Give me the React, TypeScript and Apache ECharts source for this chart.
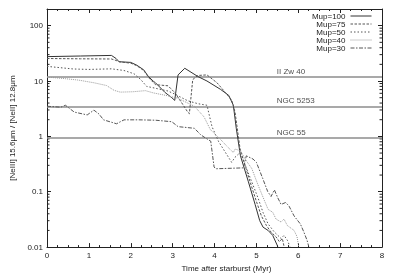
import React, { useEffect, useRef } from "react";
import * as echarts from "echarts";

const seriesNames = ["Mup=100", "Mup=75", "Mup=50", "Mup=40", "Mup=30"];

const mup100: number[][] = [
  [0, 27.6], [0.8, 28.3], [1.54, 29], [1.65, 25.5], [1.72, 22.3], [2.0, 21.7], [2.14, 19.4],
  [2.31, 15.9], [2.42, 12.1], [2.54, 9.9], [2.59, 9.3], [2.82, 6.2], [2.98, 5.0], [3.05, 4.47],
  [3.13, 12.9], [3.29, 17.0], [3.6, 12.1], [3.82, 10.0], [4.14, 7.1], [4.34, 5.5], [4.45, 3.65],
  [4.52, 1.4], [4.62, 0.445], [4.81, 0.151], [4.97, 0.059], [5.08, 0.03], [5.16, 0.0229],
  [5.28, 0.02], [5.39, 0.0163], [5.51, 0.0103],
];
const mup75: number[][] = [
  [0, 25.5], [0.8, 25.2], [1.54, 25], [1.65, 23.5], [1.72, 22.3], [2.0, 21], [2.14, 19],
  [2.31, 15.5], [2.45, 11], [2.59, 8.6], [2.89, 8.2], [3.05, 6.2], [3.21, 4.12], [3.36, 2.75],
  [3.4, 2.57], [3.48, 10.6], [3.6, 12.6], [3.82, 12.9], [4.06, 9.3], [4.26, 6.2], [4.41, 4.5],
  [4.49, 2.75], [4.61, 0.6], [4.66, 0.445], [4.85, 0.151], [5.0, 0.067], [5.12, 0.0366],
  [5.24, 0.0245], [5.35, 0.0187], [5.47, 0.0153], [5.55, 0.0125], [5.62, 0.0143], [5.66, 0.0103],
];
const mup50: number[][] = [
  [0, 18.4], [0.63, 16.5], [1.0, 16.2], [1.54, 16.6], [1.84, 15.5], [2.08, 13.5], [2.24, 10.6],
  [2.38, 8.0], [2.59, 7.4], [2.89, 6.6], [3.05, 5.8], [3.36, 4.4], [3.6, 3.9], [3.82, 3.65],
  [3.94, 1.5], [4.1, 0.8], [4.41, 0.34], [4.49, 0.42], [4.6, 0.5], [4.66, 0.42], [4.89, 0.151],
  [5.04, 0.077], [5.16, 0.042], [5.28, 0.0262], [5.43, 0.0187], [5.59, 0.0143], [5.66, 0.0163],
  [5.74, 0.0133], [5.8, 0.0103],
];
const mup40: number[][] = [
  [0, 11.8], [0.45, 11], [0.75, 10.4], [1.12, 9.3], [1.42, 8.3], [1.6, 6.8], [1.75, 6.3],
  [2.05, 6.4], [2.35, 6.7], [2.54, 6.1], [2.89, 5.4], [3.12, 4.9], [3.36, 4.0], [3.52, 3.5],
  [3.75, 2.25], [3.9, 1.33], [4.02, 1.08], [4.14, 0.89], [4.29, 0.67], [4.45, 0.51], [4.49, 0.59],
  [4.62, 0.55], [4.73, 0.39], [4.89, 0.263], [5.04, 0.132], [5.2, 0.067], [5.28, 0.048],
  [5.39, 0.0426], [5.47, 0.032], [5.59, 0.0284], [5.66, 0.032], [5.74, 0.0245], [5.9, 0.02],
  [5.97, 0.0155], [6.01, 0.0103],
];
const mup30: number[][] = [
  [0, 3.5], [0.33, 3.37], [0.44, 3.65], [0.65, 2.75], [0.96, 2.44], [1.12, 2.98], [1.24, 2.54],
  [1.35, 1.99], [1.66, 1.69], [1.84, 1.99], [2.19, 1.99], [2.59, 1.96], [2.98, 1.84], [3.13, 1.5],
  [3.52, 1.4], [3.67, 1.07], [3.79, 0.93], [3.91, 0.82], [3.99, 0.28], [4.03, 0.26], [4.69, 0.27],
  [4.76, 0.445], [4.92, 0.39], [5.0, 0.34], [5.15, 0.175], [5.27, 0.101], [5.35, 0.082],
  [5.43, 0.108], [5.51, 0.078], [5.59, 0.059], [5.7, 0.064], [5.78, 0.055], [5.9, 0.0366],
  [6.05, 0.0262], [6.13, 0.019], [6.21, 0.0133], [6.25, 0.0103],
];

const refNames = ["II Zw 40", "NGC 5253", "NGC 55"];
const refValues = [11.9, 3.5, 0.94];
const refLabelTime = 5.5;

const yMinorTicks = [
  0.02, 0.03, 0.04, 0.05, 0.06, 0.07, 0.08, 0.09,
  0.2, 0.3, 0.4, 0.5, 0.6, 0.7, 0.8, 0.9,
  2, 3, 4, 5, 6, 7, 8, 9,
  20, 30, 40, 50, 60, 70, 80, 90,
];

const FONT = "Liberation Sans";
const FRAME = "#222";

const lineStyles = [
  { color: "#333", type: "solid" as any },
  { color: "#555", type: [2.5, 1.5] },
  { color: "#555", type: [1.5, 2] },
  { color: "#999", type: [1, 1] },
  { color: "#555", type: [4, 1.5, 1.5, 1.5] },
];
const seriesData = [mup100, mup75, mup50, mup40, mup30];

export default function App() {
  const ref = useRef<HTMLDivElement>(null);
  useEffect(() => {
    const chart = echarts.init(ref.current!, null, { renderer: "svg" });
    const xBase = {
      type: "value",
      min: 0,
      max: 8,
      interval: 1,
      axisLine: { show: true, onZero: false, lineStyle: { color: FRAME, width: 1 } },
      axisTick: { show: true, inside: true, length: 4, lineStyle: { color: FRAME } },
      minorTick: { show: true, splitNumber: 4, length: 2, lineStyle: { color: FRAME } },
      splitLine: { show: false },
    };
    const yBase = {
      type: "log",
      logBase: 10,
      min: 0.01,
      max: 200,
      axisLine: { show: true, onZero: false, lineStyle: { color: FRAME, width: 1 } },
      axisTick: { show: true, inside: true, length: 4, lineStyle: { color: FRAME } },
      splitLine: { show: false },
    };
    const option: any = {
      animation: false,
      textStyle: { fontFamily: FONT },
      grid: { left: 39, right: 14, top: 9, bottom: 23, containLabel: false },
      legend: {
        data: seriesNames,
        orient: "vertical",
        right: 24,
        top: 12,
        align: "right",
        itemWidth: 21,
        itemHeight: 7,
        itemGap: 0,
        padding: 0,
        itemStyle: { opacity: 0, borderWidth: 0 },
        lineStyle: { width: 1 },
        textStyle: { fontSize: 8, color: "#222", fontFamily: FONT, lineHeight: 7 },
      },
      xAxis: [
        {
          ...xBase,
          position: "bottom",
          axisLabel: { fontSize: 8, color: "#222", margin: 4, fontFamily: FONT },
          name: "Time after starburst (Myr)",
          nameLocation: "middle",
          nameGap: 14,
          nameTextStyle: { fontSize: 8, color: "#222", fontFamily: FONT, padding: [0, 0, 0, 24] },
        },
        { ...xBase, position: "top", axisLabel: { show: false } },
      ],
      yAxis: [
        {
          ...yBase,
          position: "left",
          axisLabel: {
            fontSize: 8,
            color: "#222",
            margin: 4,
            fontFamily: FONT,
            showMaxLabel: false,
            formatter: (v: number) => String(+v.toPrecision(3)),
          },
          name: "[NeIII] 15.6μm / [NeII] 12.8μm",
          nameLocation: "middle",
          nameGap: 31,
          nameRotate: 90,
          nameTextStyle: { fontSize: 8, color: "#222", fontFamily: FONT },
        },
        { ...yBase, position: "right", axisLabel: { show: false } },
      ],
      series: [
        ...seriesNames.map((name, i) => ({
          name,
          type: "line",
          data: seriesData[i],
          symbol: "none",
          showSymbol: false,
          xAxisIndex: 0,
          yAxisIndex: 0,
          lineStyle: { width: 1, color: lineStyles[i].color, type: lineStyles[i].type },
          itemStyle: { color: lineStyles[i].color },
          z: 5,
        })),
        {
          name: "refs",
          type: "scatter",
          xAxisIndex: 0,
          yAxisIndex: 0,
          symbolSize: 1,
          itemStyle: { color: "rgba(0,0,0,0)" },
          silent: true,
          data: refNames.map((n, i) => [refLabelTime, refValues[i], n]),
          label: {
            show: true,
            position: [0, -1],
            align: "left",
            verticalAlign: "bottom",
            fontSize: 8,
            color: "#222",
            fontFamily: FONT,
            formatter: (p: any) => p.data[2],
          },
          markLine: {
            silent: true,
            symbol: ["none", "none"],
            label: { show: false },
            lineStyle: { color: "#8c8c8c", width: 1.5, type: "solid" },
            data: refValues.map((v) => ({ yAxis: v })),
          },
          z: 3,
        },
        {
          name: "minorTicks",
          type: "custom",
          xAxisIndex: 0,
          yAxisIndex: 0,
          silent: true,
          data: yMinorTicks.map((v) => [0, v]),
          encode: { x: 0, y: 1 },
          renderItem: (params: any, api: any) => {
            const v = api.value(1);
            const l = api.coord([0, v]);
            const r = api.coord([8, v]);
            return {
              type: "group",
              children: [
                { type: "line", shape: { x1: l[0], y1: l[1], x2: l[0] + 2.5, y2: l[1] }, style: { stroke: FRAME, lineWidth: 1 } },
                { type: "line", shape: { x1: r[0], y1: r[1], x2: r[0] - 2.5, y2: r[1] }, style: { stroke: FRAME, lineWidth: 1 } },
              ],
            };
          },
        },
      ],
    };
    chart.setOption(option);
    return () => chart.dispose();
  }, []);
  return <div ref={ref} style={{ position: "fixed", left: 0, top: 0, width: 396, height: 277 }} />;
}
